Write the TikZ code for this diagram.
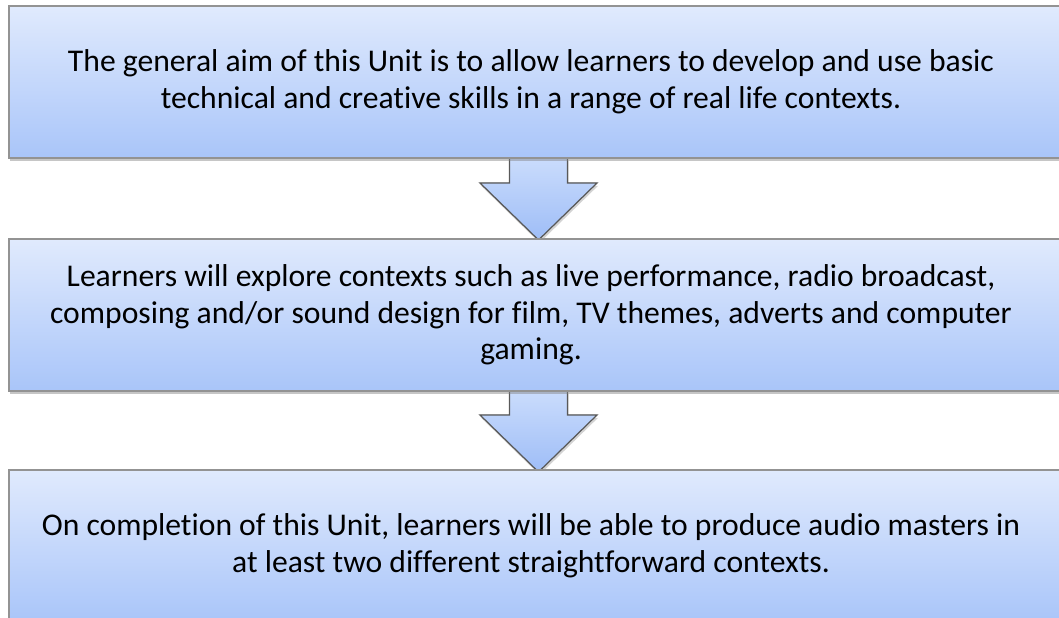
\documentclass[tikz,border=0pt]{standalone}
\usepackage{fontspec}
\setmainfont{Carlito}[Ligatures=NoCommon]
\usetikzlibrary{calc,shadows}

\definecolor{boxtop}{HTML}{E0EAFD}
\definecolor{boxbot}{HTML}{A9C5F9}
\definecolor{arrtop}{HTML}{CADCFC}
\definecolor{arrbot}{HTML}{9EBDF7}

\tikzset{
  aimbox/.style={rectangle, draw=gray!85, line width=0.8pt, top color=boxtop, bottom color=boxbot,
    minimum width=21.3cm, minimum height=3.04cm,
    drop shadow={shadow xshift=0.6pt, shadow yshift=-1.6pt, opacity=0.45}},
  aimtext/.style={align=center, xshift=-0.21cm, font=\fontsize{18}{20.8}\selectfont},
  flowarrow/.style={draw=black!65, line width=0.7pt, top color=arrtop, bottom color=arrbot,
    drop shadow={shadow xshift=0.6pt, shadow yshift=-1.6pt, opacity=0.35}}
}

\begin{document}
\begin{tikzpicture}[x=0.02cm, y=-0.02cm]
          \clip (0,0) rectangle (1059,618);
          \useasboundingbox (0,0) rectangle (1059,618);

          % Draw arrows first, the boxes go over them
          \coordinate (t1) at (538.5,240);
          \coordinate (t2) at (538.5,472);
          \filldraw[flowarrow] ($(t1)+(-29,-82)$) -- ($(t1)+(-29,-57)$) -- ($(t1)+(-58.5,-57)$) -- (t1)
            -- ($(t1)+(58.5,-57)$) -- ($(t1)+(29,-57)$) -- ($(t1)+(29,-82)$) -- cycle;
          \filldraw[flowarrow] ($(t2)+(-29,-81)$) -- ($(t2)+(-29,-57)$) -- ($(t2)+(-58.5,-57)$) -- (t2)
            -- ($(t2)+(58.5,-57)$) -- ($(t2)+(29,-57)$) -- ($(t2)+(29,-81)$) -- cycle;

          % Define boxes
          \node[aimbox, label={[aimtext]center:{The general aim of this Unit is to allow learners to develop and use basic\\
            technical and creative skills in a range of real life contexts.}}] (aim) at (541.5,82) {};
          \node[aimbox, label={[aimtext]center:{Learners will explore contexts such as live performance, radio broadcast,\\
            composing and/or sound design for film, TV themes, adverts and computer\\ gaming.}}] (explore) at (541.5,315) {};
          \node[aimbox, label={[aimtext]center:{On completion of this Unit, learners will be able to produce audio masters in\\
            at least two different straightforward contexts.}}] (outcome) at (541.5,546) {};
        \end{tikzpicture}
\end{document}
